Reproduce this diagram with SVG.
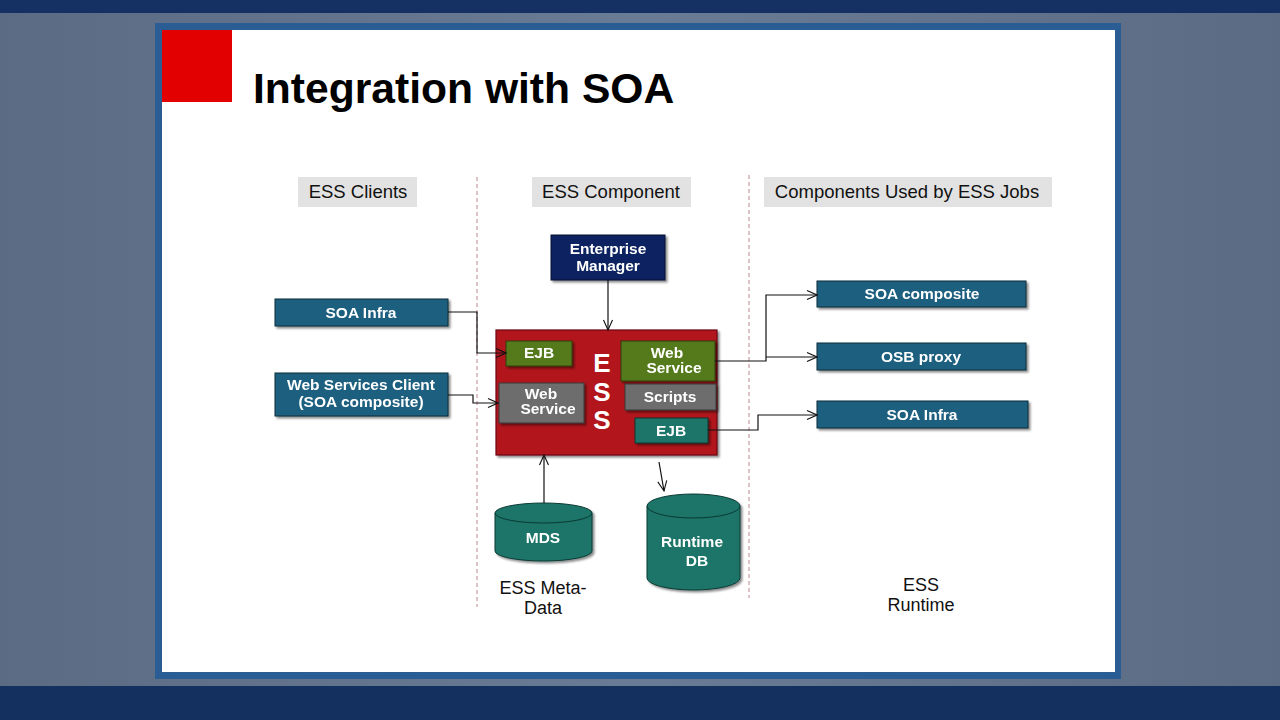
<svg xmlns="http://www.w3.org/2000/svg" width="1280" height="720" viewBox="0 0 1280 720">
<defs>
<linearGradient id="bg" x1="0" y1="0" x2="1" y2="0">
<stop offset="0" stop-color="#5b6b84"/><stop offset="0.5" stop-color="#6a7b95"/><stop offset="1" stop-color="#5b6b84"/>
</linearGradient>
<filter id="sh" x="-10%" y="-10%" width="130%" height="140%">
<feDropShadow dx="2" dy="2" stdDeviation="1.2" flood-color="#000" flood-opacity="0.45"/>
</filter>
<marker id="ar" viewBox="0 0 12 12" refX="11" refY="6" markerWidth="12" markerHeight="12" markerUnits="userSpaceOnUse" orient="auto">
<polyline points="1,1.5 11,6 1,10.5" fill="none" stroke="#111" stroke-width="1.1"/>
</marker>
<style>
.hdr{fill:#e2e2e2}
.ht{font-family:"Liberation Sans",Arial,sans-serif;font-size:18.5px;fill:#111;text-anchor:middle}
.bt{font-family:"Liberation Sans",Arial,sans-serif;font-size:15.5px;font-weight:bold;fill:#fff;text-anchor:middle}
.blue{fill:#1d5f7f;stroke:#0b2c3a;stroke-width:1}
.teal{fill:#1b7468;stroke:#0b3a34;stroke-width:1}
.green{fill:#557a1c;stroke:#2a3d0c;stroke-width:1}
.gray{fill:#6d6d6d;stroke:#3a3a3a;stroke-width:1}
.conn{fill:none;stroke:#111;stroke-width:1.2}
.dash{stroke:#c89aa0;stroke-width:1.2;stroke-dasharray:4,3}
.lbl{font-family:"Liberation Sans",Arial,sans-serif;font-size:18px;fill:#111;text-anchor:middle}
</style>
</defs>
<rect width="1280" height="720" fill="url(#bg)"/>
<rect x="0" y="0" width="1280" height="13" fill="#153163"/>
<rect x="0" y="686" width="1280" height="34" fill="#14305f"/>
<rect x="155" y="23" width="966" height="656" fill="#2b5d95"/>
<rect x="162" y="30" width="953" height="642" fill="#ffffff"/>
<rect x="162" y="30" width="70" height="72" fill="#e20000"/>
<text x="253" y="103" font-family="'Liberation Sans',Arial,sans-serif" font-size="42.6" font-weight="bold" fill="#000">Integration with SOA</text>

<g id="headers">
<rect class="hdr" x="298" y="177" width="119" height="30"/>
<text class="ht" x="358" y="198">ESS Clients</text>
<rect class="hdr" x="532" y="177" width="159" height="30"/>
<text class="ht" x="611" y="198">ESS Component</text>
<rect class="hdr" x="764" y="177" width="288" height="30"/>
<text class="ht" x="907" y="198">Components Used by ESS Jobs</text>
</g>
<line class="dash" x1="477" y1="177" x2="477" y2="607"/>
<line class="dash" x1="749" y1="175" x2="749" y2="598"/>

<g id="enterprise-manager" filter="url(#sh)">
<rect x="551" y="235" width="114" height="45" fill="#0c2461" stroke="#050f30"/>
<text class="bt" x="608" y="254">Enterprise</text>
<text class="bt" x="608" y="271">Manager</text>
</g>
<g id="soa-infra-client" filter="url(#sh)">
<rect class="blue" x="275" y="299" width="173" height="27"/>
<text class="bt" x="361" y="318">SOA Infra</text>
</g>
<g id="ws-client" filter="url(#sh)">
<rect class="blue" x="275" y="373" width="173" height="43"/>
<text class="bt" x="361" y="390" font-size="16.5px">Web Services Client</text>
<text class="bt" x="361" y="407" font-size="16.5px">(SOA composite)</text>
</g>

<g id="ess">
<rect x="496" y="330" width="221" height="125" fill="#b2121a" stroke="#6a0a0e" stroke-width="1.2" filter="url(#sh)"/>
<text x="602" y="372" font-family="'Liberation Sans',Arial,sans-serif" font-size="26" font-weight="bold" fill="#fff" text-anchor="middle">E</text>
<text x="602" y="401" font-family="'Liberation Sans',Arial,sans-serif" font-size="26" font-weight="bold" fill="#fff" text-anchor="middle">S</text>
<text x="602" y="429" font-family="'Liberation Sans',Arial,sans-serif" font-size="26" font-weight="bold" fill="#fff" text-anchor="middle">S</text>
</g>
<g id="ess-ejb-in" filter="url(#sh)">
<rect class="green" x="506" y="341" width="66" height="25"/>
<text class="bt" x="539" y="358">EJB</text>
</g>
<g id="ess-ws-in" filter="url(#sh)">
<rect class="gray" x="499" y="383" width="85" height="40"/>
<text class="bt" x="541" y="399">Web</text>
<text class="bt" x="548" y="414">Service</text>
</g>
<g id="ess-ws-out" filter="url(#sh)">
<rect class="green" x="621" y="341" width="94" height="40"/>
<text class="bt" x="667" y="358">Web</text>
<text class="bt" x="674" y="373">Service</text>
</g>
<g id="ess-scripts" filter="url(#sh)">
<rect class="gray" x="625" y="384" width="91" height="26"/>
<text class="bt" x="670" y="402">Scripts</text>
</g>
<g id="ess-ejb-out" filter="url(#sh)">
<rect class="teal" x="635" y="418" width="73" height="25"/>
<text class="bt" x="671" y="436">EJB</text>
</g>

<g id="soa-composite" filter="url(#sh)">
<rect class="blue" x="817" y="281" width="209" height="26"/>
<text class="bt" x="922" y="299">SOA composite</text>
</g>
<g id="osb-proxy" filter="url(#sh)">
<rect class="blue" x="817" y="343" width="209" height="27"/>
<text class="bt" x="921" y="362">OSB proxy</text>
</g>
<g id="soa-infra-job" filter="url(#sh)">
<rect class="blue" x="817" y="401" width="211" height="27"/>
<text class="bt" x="922" y="420">SOA Infra</text>
</g>

<g id="mds" filter="url(#sh)">
<path d="M495,513 L495,551 A48.5,10 0 0 0 592,551 L592,513 Z" class="teal"/>
<ellipse cx="543.5" cy="513" rx="48.5" ry="10" class="teal"/>
<text class="bt" x="543" y="543">MDS</text>
</g>
<g id="runtime-db" filter="url(#sh)">
<path d="M647,506 L647,578 A46.5,12 0 0 0 740,578 L740,506 Z" class="teal"/>
<ellipse cx="693.5" cy="506" rx="46.5" ry="12" class="teal"/>
<text class="bt" x="692" y="547">Runtime</text>
<text class="bt" x="697" y="566">DB</text>
</g>

<g id="labels">
<text class="lbl" x="543" y="594">ESS Meta-</text>
<text class="lbl" x="543" y="614">Data</text>
<text class="lbl" x="921" y="591">ESS</text>
<text class="lbl" x="921" y="611">Runtime</text>
</g>

<g id="connectors">
<polyline class="conn" points="448,312 477,312 477,353 506,353" marker-end="url(#ar)"/>
<polyline class="conn" points="448,395 473,395 473,403 498,403" marker-end="url(#ar)"/>
<polyline class="conn" points="608,280 608,330" marker-end="url(#ar)"/>
<polyline class="conn" points="715,361 766,361 766,295 817,295" marker-end="url(#ar)"/>
<polyline class="conn" points="766,357 817,357" marker-end="url(#ar)"/>
<polyline class="conn" points="708,430 758,430 758,415 817,415" marker-end="url(#ar)"/>
<polyline class="conn" points="544,503 544,455" marker-end="url(#ar)"/>
<polyline class="conn" points="659,462 664,491" marker-end="url(#ar)"/>
</g>
</svg>
